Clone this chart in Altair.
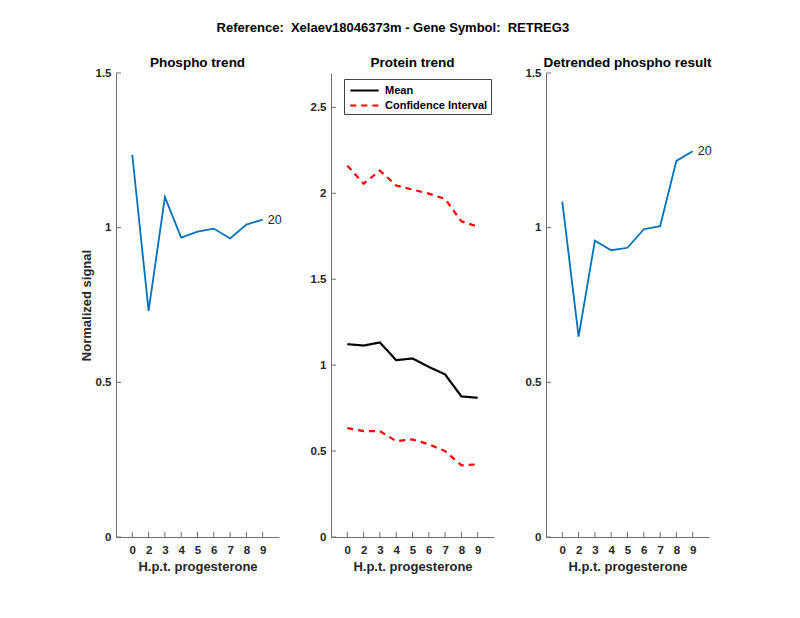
import json
import altair as alt
import pandas as pd

# ---- data ----
x_labels = ["0", "2", "3", "4", "5", "6", "7", "8", "9"]
phospho = [1.235, 0.731, 1.099, 0.968, 0.987, 0.997, 0.965, 1.010, 1.026]
protein_mean = [1.122, 1.114, 1.132, 1.029, 1.039, 0.990, 0.946, 0.818, 0.810]
protein_upper = [2.161, 2.056, 2.132, 2.045, 2.022, 1.998, 1.967, 1.837, 1.806]
protein_lower = [0.634, 0.616, 0.616, 0.558, 0.568, 0.539, 0.500, 0.417, 0.423]
detrended = [1.084, 0.648, 0.958, 0.927, 0.935, 0.995, 1.005, 1.216, 1.247]
end_label = "20"
y_ticks_phospho = [0, 0.5, 1, 1.5]
y_ticks_protein = [0, 0.5, 1, 1.5, 2, 2.5]

pos = list(range(1, len(x_labels) + 1))

W, H = 163, 464
FONT = "Liberation Sans"
AX = "#6e6e6e"
TXT = "#262626"
BLUE = "#0072BD"

label_expr = json.dumps(x_labels) + "[datum.value - 1]"


def x_enc(field="pos:Q"):
    return alt.X(
        field,
        scale=alt.Scale(domain=[0, 10], nice=False, zero=False),
        axis=alt.Axis(
            values=pos, labelExpr=label_expr, title="H.p.t. progesterone",
            grid=False, tickSize=0, labelPadding=7, titlePadding=5, labelOverlap=False,
        ),
    )


def y_enc(field, domain, ticks, title=None):
    kw = dict(values=ticks, format="~g", grid=False, tickSize=0, labelPadding=5,
              labelOverlap=False)
    if title:
        kw["title"] = title
        kw["titlePadding"] = 2
    else:
        kw["title"] = None
    return alt.Y(field, scale=alt.Scale(domain=domain, nice=False, zero=False),
                 axis=alt.Axis(**kw))


def inner_ticks(domain, ticks, ytitle=None):
    tx = alt.Chart(pd.DataFrame({"pos": pos})).mark_rule(color=AX, strokeWidth=1).encode(
        x=x_enc("pos:Q"),
        y=alt.value(H), y2=alt.value(H - 5),
    )
    ty = alt.Chart(pd.DataFrame({"val": ticks})).mark_rule(color=AX, strokeWidth=1).encode(
        y=y_enc("val:Q", domain, ticks, ytitle),
        x=alt.value(0), x2=alt.value(5),
    )
    return [tx, ty]


def panel_title(text, offset):
    return alt.TitleParams(text, font=FONT, fontSize=13.5, fontWeight="bold",
                           color="black", offset=offset)


def trend_panel(values, title, ytitle=None):
    df = pd.DataFrame({"pos": pos, "val": values, "lab": [""] * (len(pos) - 1) + [end_label]})
    base = alt.Chart(df)
    line = base.mark_line(color=BLUE, strokeWidth=1.8).encode(
        x=x_enc(), y=y_enc("val:Q", [0, 1.5], y_ticks_phospho, ytitle)
    )
    txt = base.mark_text(align="left", dx=5, fontSize=12.5, font=FONT, color=TXT).encode(
        x=x_enc(), y=y_enc("val:Q", [0, 1.5], y_ticks_phospho, ytitle), text="lab:N"
    )
    return alt.layer(line, txt, *inner_ticks([0, 1.5], y_ticks_phospho, ytitle)).properties(
        width=W, height=H, title=panel_title(title, -2)
    )


# protein panel
rows = []
for p, m, u, l in zip(pos, protein_mean, protein_upper, protein_lower):
    rows.append({"pos": p, "val": m, "series": "Mean", "line": "mean"})
    rows.append({"pos": p, "val": u, "series": "Confidence Interval", "line": "upper"})
    rows.append({"pos": p, "val": l, "series": "Confidence Interval", "line": "lower"})
pdf = pd.DataFrame(rows)

series_dom = ["Mean", "Confidence Interval"]
legend = alt.Legend(
    title=None, orient="none", legendX=13, legendY=6, symbolType="M-2,0L2,0",
    symbolSize=200, symbolStrokeWidth=2.2, labelFont=FONT, labelFontSize=11,
    labelFontWeight="bold", labelColor="black", strokeColor="#444", fillColor="white",
    padding=3, rowPadding=1, labelOffset=12, symbolOffset=9,
)
protein_line = alt.Chart(pdf).mark_line(strokeWidth=2.2).encode(
    x=x_enc(),
    y=y_enc("val:Q", [0, 2.7], y_ticks_protein),
    color=alt.Color("series:N", scale=alt.Scale(domain=series_dom, range=["black", "red"]), legend=legend),
    strokeDash=alt.StrokeDash("series:N", scale=alt.Scale(domain=series_dom, range=[[1, 0], [6, 5]]), legend=legend),
    detail="line:N",
)
protein = alt.layer(protein_line, *inner_ticks([0, 2.7], y_ticks_protein)).properties(
    width=W, height=H, title=panel_title("Protein trend", 4)
)

p1 = trend_panel(phospho, "Phospho trend", "Normalized signal")
p3 = trend_panel(detrended, "Detrended phospho result")

chart = alt.hconcat(p1, protein, p3, spacing=52, bounds="flush").resolve_scale(
    color="independent", strokeDash="independent"
).properties(
    title=alt.TitleParams(
        "Reference:\u00a0 Xelaev18046373m - Gene Symbol:\u00a0 RETREG3",
        font=FONT, fontSize=13, fontWeight="bold", color="black", anchor="middle",
        dx=-3, offset=21,
    ),
    padding={"left": 72, "top": 13, "right": 5, "bottom": 5},
).configure_view(stroke=None).configure_axis(
    domainColor=AX, domainWidth=1, labelFont=FONT, labelFontSize=11.5, labelFontWeight="bold",
    labelColor=TXT, titleFont=FONT, titleFontSize=13, titleFontWeight="bold", titleColor=TXT,
    labelOverlap=False,
)

chart.save("out.html", embed_options={"renderer": "svg", "actions": False})
